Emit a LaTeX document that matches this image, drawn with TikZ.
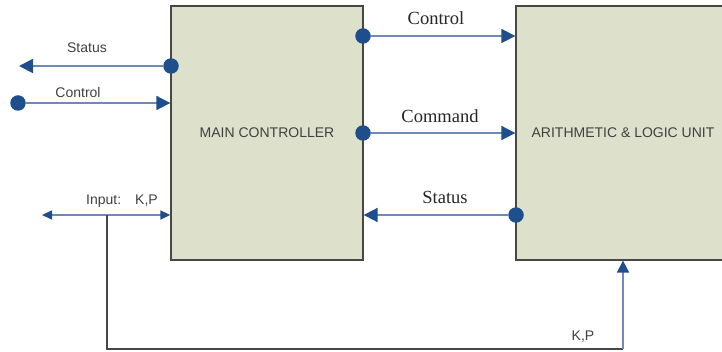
\documentclass[tikz,border=0pt]{standalone}
\usepackage{fontspec}
\setmainfont{Liberation Serif}
\setsansfont{Liberation Sans}
\usetikzlibrary{arrows.meta}
\definecolor{boxfill}{HTML}{DDE1CC}
\definecolor{boxline}{HTML}{474747}
\definecolor{linkblue}{HTML}{7089B8}
\definecolor{tipblue}{HTML}{1F4E8C}
\begin{document}
\begin{tikzpicture}[x=1pt,y=-1pt,
  block/.style={draw=boxline,fill=boxfill,line width=1.3pt,minimum height=254pt,
    font=\sffamily\fontsize{14}{16}\selectfont,text=black!75},
  dot/.style={circle,fill=tipblue,inner sep=0pt,minimum size=15.5pt},
  sig/.style={draw=linkblue,line width=1.8pt,
    -{Triangle[length=14pt,width=14pt,color=tipblue]}},
  sigsmall/.style={draw=linkblue,line width=1.6pt,
    {Triangle[length=10pt,width=9pt,color=tipblue]}-{Triangle[length=10pt,width=9pt,color=tipblue]}},
  wire/.style={draw=boxline,line width=1.3pt},
  sanslabel/.style={anchor=base,inner sep=0pt,font=\sffamily\fontsize{14}{16}\selectfont,text=black!75},
  seriflabel/.style={anchor=base,inner sep=0pt,font=\fontsize{18.5}{20}\selectfont,text=black!85}]
\useasboundingbox (0,0) rectangle (722,352);
%% the two blocks
\node[block,minimum width=192pt] (main) at (267,133) {MAIN CONTROLLER};
\node[block,minimum width=214pt] (alu) at (623,133) {ARITHMETIC \& LOGIC UNIT};
%% the dots
\node[dot] (stOut) at (171,66) {};
\node[dot] (ctIn) at (18,103) {};
\node[dot] (mcCtl) at (363,36) {};
\node[dot] (mcCmd) at (363,133) {};
\node[dot] (aluSt) at (516,215) {};
\coordinate (stEnd) at (19,66);
\coordinate (inEnd) at (42,215);
\coordinate (tap) at (107,215);
\coordinate (turn) at (623,349);
%% left side
\draw[sig] (stOut) -- (stEnd);
\draw[sig] (ctIn) -- (ctIn -| main.west);
\draw[sigsmall] (inEnd) -- (inEnd -| main.west);
\draw[wire] (tap) |- (turn);
\draw[sig,-{Triangle[length=12pt,width=12pt,color=tipblue]}] (turn) -- (turn |- alu.south);
%% between the blocks
\draw[sig] (mcCtl) -- (mcCtl -| alu.west);
\draw[sig] (mcCmd) -- (mcCmd -| alu.west);
\draw[sig] (aluSt) -- (aluSt -| main.east);
%% the labels
\node[sanslabel] (lStatus) at (87,53) {Status};
\node[sanslabel] (lControl) at (78,98) {Control};
\node[sanslabel] (lInput) at (122,205) {Input:\quad K,P};
\node[sanslabel] (lKP) at (583,340) {K,P};
\node[seriflabel] (rControl) at (436,25) {Control};
\node[seriflabel] (rCommand) at (440,123) {Command};
\node[seriflabel] (rStatus) at (445,204) {Status};
\end{tikzpicture}
\end{document}
